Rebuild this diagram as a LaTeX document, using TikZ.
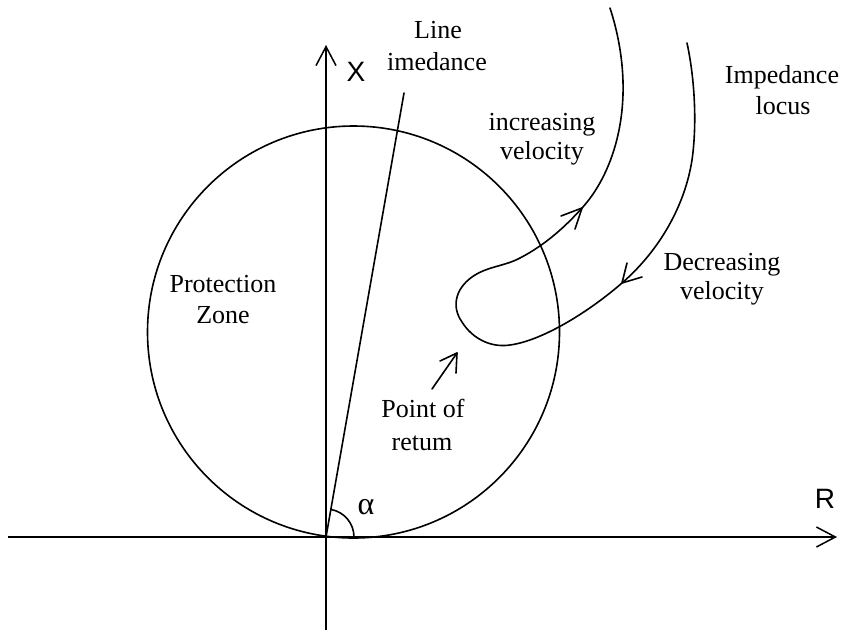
\documentclass[tikz,border=0pt]{standalone}
\usepackage{fontspec}
\setmainfont{Liberation Serif}
\newfontfamily\axfont{Liberation Sans}
\usetikzlibrary{arrows.meta}
\begin{document}
\begin{tikzpicture}[x=1pt,y=-1pt,
  curve/.style={line width=1.6pt,line cap=round,line join=round},
  axis/.style={line width=1.6pt,-{Straight Barb[length=19pt,width=20pt,line width=1.5pt]}},
  lbl/.style={inner sep=0pt,anchor=base,font=\fontsize{26}{31}\selectfont},
  axlbl/.style={inner sep=0pt,font=\axfont\fontsize{28}{32}\selectfont}]
\useasboundingbox (0,0) rectangle (843,630);
% axes
\coordinate (O) at (326,537);
\coordinate (Rl) at (8,537);
\coordinate (Rr) at (837,537);
\coordinate (Xb) at (326,630);
\coordinate (Xt) at (326,45);
\draw[axis] (Rl) -- (Rr);
\draw[axis] (Xb) -- (Xt);
\node[axlbl] (X) at (356,72) {X};
\node[axlbl] (R) at (825,499) {R};
% protection circle
\draw[curve] (353.5,332) circle[radius=206];
% line impedance
\coordinate (Lt) at (404,93);
\draw[curve] (O) -- (Lt);
\draw[curve] ([xshift=28pt]O) arc[start angle=0,end angle=-80,radius=28];
\node[inner sep=0pt] (alpha) at (366,507) {\fontsize{32}{34}\selectfont α};
% impedance locus
\draw[curve] (610,8) .. controls (622,45) and (625,80) .. (622,110)
  .. controls (618,150) and (603,185) .. (582,208)
  .. controls (565,227) and (545,245) .. (520,258)
  .. controls (505,266) and (490,266) .. (475,275)
  .. controls (457,286) and (450,305) .. (462,322)
  .. controls (472,338) and (490,348) .. (510,345)
  .. controls (540,341) and (585,315) .. (622,283)
  .. controls (660,250) and (685,205) .. (692,160)
  .. controls (697,125) and (695,80) .. (687,43);
\draw[curve] (561,216) -- (582,208) -- (575,229);
\draw[curve] (627,263) -- (622,283) -- (642,277);
% point of return arrow
\coordinate (Pa) at (432,389);
\coordinate (Pb) at (457,353);
\draw[curve] (Pa) -- (Pb);
\draw[curve] (440,361) -- (Pb) -- (456,373);
% labels
\node[lbl] (line1) at (438,38) {Line};
\node[lbl] (line2) at (437,70) {imedance};
\node[lbl] (prot1) at (223,292) {Protection};
\node[lbl] (prot2) at (223,323) {Zone};
\node[lbl] (por1) at (423,417) {Point of};
\node[lbl] (por2) at (422,450) {retum};
\node[lbl] (inc1) at (542,130) {increasing};
\node[lbl] (inc2) at (542,159) {velocity};
\node[lbl] (dec1) at (722,270) {Decreasing};
\node[lbl] (dec2) at (722,299) {velocity};
\node[lbl] (imp1) at (782,83) {Impedance};
\node[lbl] (imp2) at (783,114) {locus};
\end{tikzpicture}
\end{document}
